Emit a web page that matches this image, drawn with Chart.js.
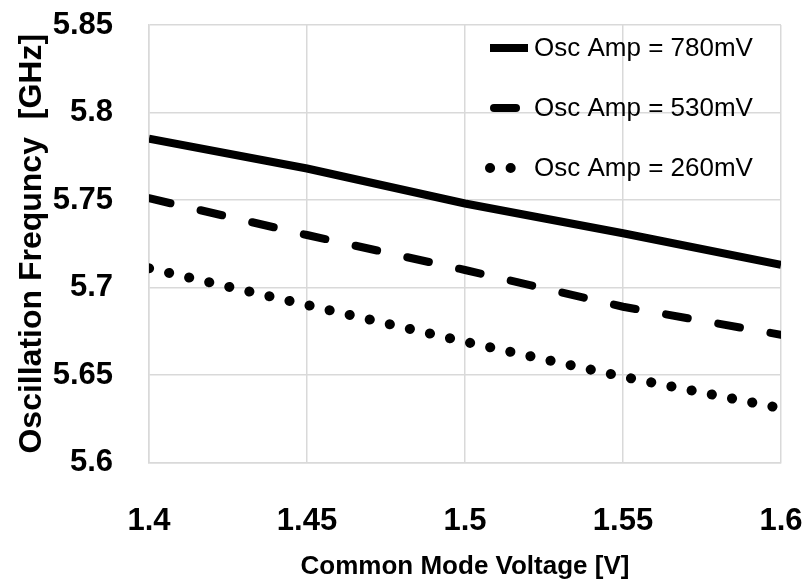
<!DOCTYPE html>
<html>
<head>
<meta charset="utf-8">
<script src="https://cdn.jsdelivr.net/npm/chart.js@4.4.1/dist/chart.umd.min.js"></script>
<style>
  html, body { margin: 0; padding: 0; background: #fff; }
</style>
</head>
<body>
<canvas id="freqChart" width="807" height="585"></canvas>
<script>
// data
const voltage  = [1.4, 1.45, 1.5, 1.55, 1.6];
const amp780mV = [5.785, 5.768, 5.748, 5.731, 5.713];
const amp530mV = [5.751, 5.730, 5.710, 5.689, 5.673];
const amp260mV = [5.711, 5.690, 5.669, 5.649, 5.631];
const seriesLabels = ["Osc Amp = 780mV", "Osc Amp = 530mV", "Osc Amp = 260mV"];
const xTickLabels  = ["1.4", "1.45", "1.5", "1.55", "1.6"];
const yTickLabels  = ["5.6", "5.65", "5.7", "5.75", "5.8", "5.85"];
const xTitle = "Common Mode Voltage [V]";
const yTitle = "Oscillation Frequncy  [GHz]";

const FONT = "'Liberation Sans', Arial, sans-serif";
const GRID = "#d9d9d9";

const pts = ys => voltage.map((v, i) => ({ x: v, y: ys[i] }));

// legend drawn inside the plot area, top right
const insideLegend = {
  id: "insideLegend",
  afterDatasetsDraw(chart) {
    const { ctx, chartArea } = chart;
    const x0 = chartArea.right - 291;
    const rows = [chartArea.top + 23, chartArea.top + 83, chartArea.top + 143];
    chart.data.datasets.forEach((ds, i) => {
      const y = rows[i];
      ctx.save();
      ctx.strokeStyle = ds.borderColor;
      ctx.lineWidth = ds.borderWidth;
      ctx.lineCap = ds.borderCapStyle || "butt";
      ctx.setLineDash(ds.borderDash || []);
      ctx.beginPath();
      ctx.moveTo(x0 + (i === 1 ? 4 : 0), y);
      ctx.lineTo(x0 + 38, y);
      ctx.stroke();
      ctx.setLineDash([]);
      ctx.fillStyle = "#000";
      ctx.font = "26px " + FONT;
      ctx.textBaseline = "middle";
      ctx.fillText(ds.label, x0 + 44, y + 1);
      ctx.restore();
    });
  }
};

new Chart(document.getElementById("freqChart"), {
  type: "line",
  data: {
    datasets: [
      { label: seriesLabels[0], data: pts(amp780mV), borderColor: "#000",
        borderWidth: 8, borderCapStyle: "butt" },
      { label: seriesLabels[1], data: pts(amp530mV), borderColor: "#000",
        borderWidth: 8, borderDash: [22, 31], borderCapStyle: "round" },
      { label: seriesLabels[2], data: pts(amp260mV), borderColor: "#000",
        borderWidth: 10, borderDash: [0.1, 20.5], borderCapStyle: "round" }
    ]
  },
  options: {
    responsive: false,
    animation: false,
    elements: { point: { radius: 0 }, line: { tension: 0 } },
    layout: { padding: { top: 25, right: 26, left: 0, bottom: 0 } },
    plugins: { legend: { display: false }, tooltip: { enabled: false } },
    scales: {
      x: {
        type: "linear", min: 1.4, max: 1.6,
        afterBuildTicks: s => { s.ticks = xTickLabels.map(t => ({ value: +t })); },
        afterFit: s => { s.height = 122.5; s.paddingLeft = 0; s.paddingRight = 0; },
        grid: { color: GRID, lineWidth: 1.5, drawTicks: false },
        border: { color: GRID, width: 1.5 },
        ticks: {
          padding: 40, color: "#000", maxRotation: 0,
          font: { family: FONT, size: 31, weight: "bold" },
          callback: (v, i) => xTickLabels[i]
        },
        title: {
          display: true, text: xTitle, color: "#000",
          font: { family: FONT, size: 26, weight: "bold", lineHeight: 1 },
          padding: { top: 5, bottom: 5 }
        }
      },
      y: {
        type: "linear", min: 5.6, max: 5.85,
        afterBuildTicks: s => { s.ticks = yTickLabels.map(t => ({ value: +t })); },
        afterFit: s => { s.width = 149; s.paddingTop = 0; s.paddingBottom = 0; },
        grid: { color: GRID, lineWidth: 1.5, drawTicks: false },
        border: { color: GRID, width: 1.5 },
        ticks: {
          padding: 36, color: "#000",
          font: { family: FONT, size: 31, weight: "bold" },
          callback: (v, i) => yTickLabels[i]
        },
        title: {
          display: true, text: yTitle, color: "#000",
          font: { family: FONT, size: 32, weight: "bold", lineHeight: 1.2 },
          padding: { top: 13, bottom: 13 }
        }
      }
    }
  },
  plugins: [insideLegend]
});
</script>
</body>
</html>
